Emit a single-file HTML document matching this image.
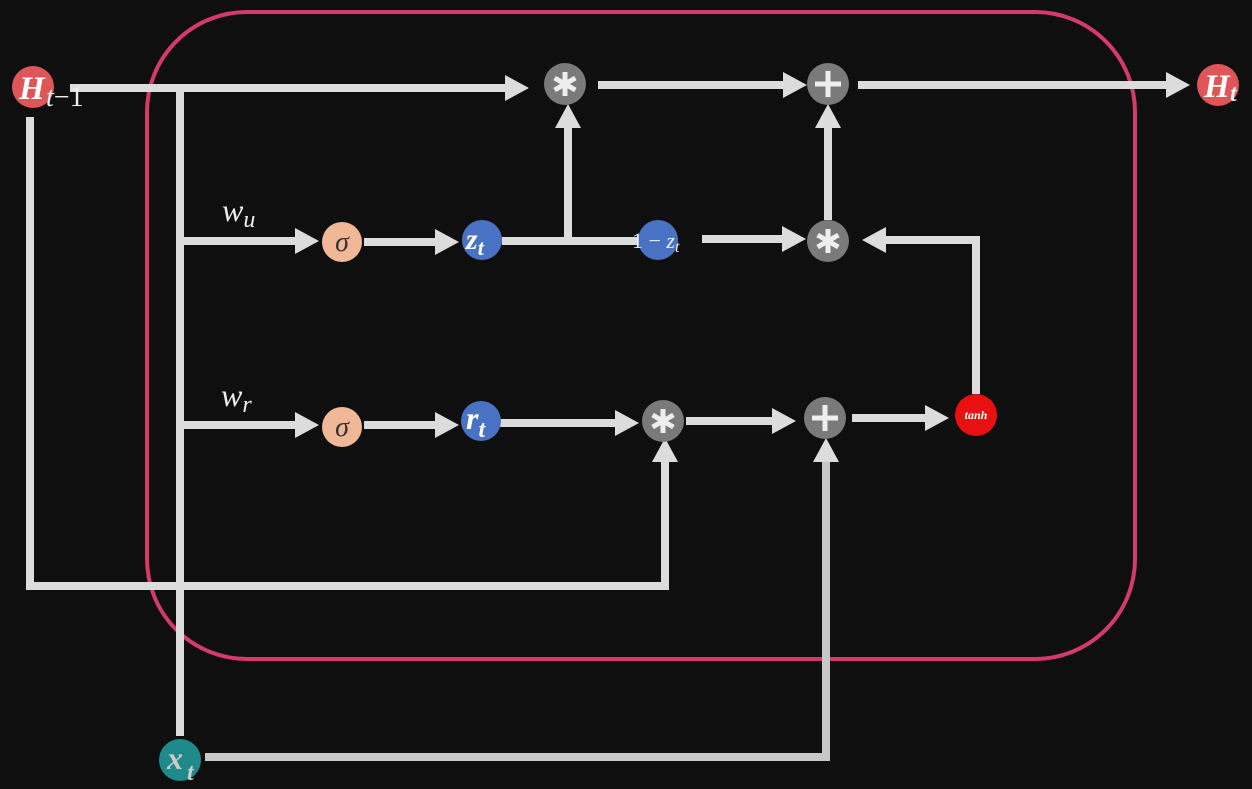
<!DOCTYPE html>
<html><head><meta charset="utf-8"><style>
html,body{margin:0;padding:0;background:#0f0f0f;}
svg{display:block;}
text{font-family:"Liberation Serif",serif;}
</style></head><body>
<svg width="1252" height="789" viewBox="0 0 1252 789" xmlns="http://www.w3.org/2000/svg">
<rect width="1252" height="789" fill="#0f0f0f"/>
<rect x="147" y="12" width="988" height="647" rx="100" ry="100" fill="none" stroke="#d63a6a" stroke-width="4"/>
<g stroke="#dcdcdc" stroke-width="8" fill="none" stroke-linecap="butt">
  <line x1="70" y1="88" x2="508" y2="88"/>
  <line x1="180" y1="88" x2="180" y2="736"/>
  <line x1="30" y1="117" x2="30" y2="587"/>
  <line x1="26" y1="586" x2="667" y2="586"/>
  <line x1="665" y1="590" x2="665" y2="460"/>
  <line x1="598" y1="85" x2="786" y2="85"/>
  <line x1="858" y1="85" x2="1168" y2="85"/>
  <line x1="180" y1="241" x2="298" y2="241"/>
  <line x1="364" y1="242" x2="438" y2="242"/>
  <line x1="502" y1="241" x2="640" y2="241"/>
  <line x1="568" y1="245" x2="568" y2="126"/>
  <line x1="702" y1="239" x2="786" y2="239"/>
  <line x1="828" y1="220" x2="828" y2="126"/>
  <line x1="976" y1="394" x2="976" y2="240"/>
  <line x1="980" y1="240" x2="884" y2="240"/>
  <line x1="180" y1="425" x2="298" y2="425"/>
  <line x1="364" y1="425" x2="438" y2="425"/>
  <line x1="500" y1="423" x2="618" y2="423"/>
  <line x1="686" y1="421" x2="775" y2="421"/>
  <line x1="852" y1="418" x2="928" y2="418"/>
  <line x1="205" y1="757" x2="830" y2="757" stroke="#c8c8c8"/>
  <line x1="826" y1="761" x2="826" y2="460" stroke="#c8c8c8"/>
</g>
<g fill="#dcdcdc">
  <polygon points="529,88 505,75 505,101"/>
  <polygon points="807,85 783,72 783,98"/>
  <polygon points="1190,85 1166,72 1166,98"/>
  <polygon points="319,241 295,228 295,254"/>
  <polygon points="459,242 435,229 435,255"/>
  <polygon points="568,104 555,128 581,128"/>
  <polygon points="806,239 782,226 782,252"/>
  <polygon points="828,104 815,128 841,128"/>
  <polygon points="862,240 886,227 886,253"/>
  <polygon points="319,425 295,412 295,438"/>
  <polygon points="459,425 435,412 435,438"/>
  <polygon points="639,423 615,410 615,436"/>
  <polygon points="796,421 772,408 772,434"/>
  <polygon points="949,418 925,405 925,431"/>
  <polygon points="665,438 652,462 678,462"/>
  <polygon points="826,438 813,462 839,462"/>
</g>
<circle cx="33" cy="87" r="21" fill="#e05558"/>
<text x="19" y="99" fill="#fff" font-size="33" font-weight="bold" font-style="italic">H</text>
<text x="46" y="106" fill="#eee" font-size="28" font-style="italic">t<tspan font-style="normal">−1</tspan></text>
<circle cx="1218" cy="85" r="21" fill="#e05558"/>
<text x="1204" y="97" fill="#fff" font-size="33" font-weight="bold" font-style="italic">H</text>
<text x="1230" y="101" fill="#eee" font-size="24" font-style="italic" font-weight="bold">t</text>

<g>
  <circle cx="565" cy="84" r="21" fill="#7a7a7a"/>
  <circle cx="828" cy="84" r="21" fill="#7a7a7a"/>
  <circle cx="828" cy="241" r="21" fill="#7a7a7a"/>
  <circle cx="663" cy="421" r="21" fill="#7a7a7a"/>
  <circle cx="825" cy="418" r="21" fill="#7a7a7a"/>
</g>
<g stroke="#eee" stroke-width="5" stroke-linecap="butt">
  <line x1="565" y1="72" x2="565" y2="96"/><line x1="554.6" y1="78" x2="575.4" y2="90"/><line x1="554.6" y1="90" x2="575.4" y2="78"/>
  <line x1="828" y1="229" x2="828" y2="253"/><line x1="817.6" y1="235" x2="838.4" y2="247"/><line x1="817.6" y1="247" x2="838.4" y2="235"/>
  <line x1="663" y1="409" x2="663" y2="433"/><line x1="652.6" y1="415" x2="673.4" y2="427"/><line x1="652.6" y1="427" x2="673.4" y2="415"/>
  <line x1="828" y1="71" x2="828" y2="97"/><line x1="815" y1="84" x2="841" y2="84"/>
  <line x1="825" y1="405" x2="825" y2="431"/><line x1="812" y1="418" x2="838" y2="418"/>
</g>

<text x="222" y="221" fill="#eee" font-size="32" font-style="italic">w<tspan font-size="24" dy="6">u</tspan></text>
<text x="221" y="406" fill="#eee" font-size="32" font-style="italic">w<tspan font-size="24" dy="6">r</tspan></text>

<circle cx="342" cy="242" r="20" fill="#f0b896"/>
<text x="342" y="251" fill="#333" font-size="28" font-style="italic" text-anchor="middle">σ</text>
<circle cx="342" cy="427" r="20" fill="#f0b896"/>
<text x="342" y="436" fill="#333" font-size="28" font-style="italic" text-anchor="middle">σ</text>

<circle cx="482" cy="240" r="20" fill="#4a72c4"/>
<text x="466" y="249" fill="#fff" font-size="30" font-weight="bold" font-style="italic">z<tspan font-size="22" dy="6">t</tspan></text>
<circle cx="481" cy="421" r="20" fill="#4a72c4"/>
<text x="466" y="429" fill="#fff" font-size="32" font-weight="bold" font-style="italic">r<tspan font-size="24" dy="8">t</tspan></text>

<circle cx="658" cy="240" r="20" fill="#4a72c4"/>
<text x="632" y="248" fill="#eee" font-size="22">1 − <tspan font-style="italic">z</tspan><tspan font-size="16" font-style="italic" dy="4">t</tspan></text>

<circle cx="976" cy="415" r="21" fill="#e81010"/>
<text x="976" y="419" fill="#fff" font-size="12" font-weight="bold" font-style="italic" text-anchor="middle">tanh</text>

<circle cx="180" cy="760" r="21" fill="#1f8a8a"/>
<text x="167" y="769" fill="#ccc" font-size="32" font-weight="bold" font-style="italic">x</text>
<text x="187" y="780" fill="#ccc" font-size="24" font-weight="bold" font-style="italic">t</text>
</svg>
</body></html>
